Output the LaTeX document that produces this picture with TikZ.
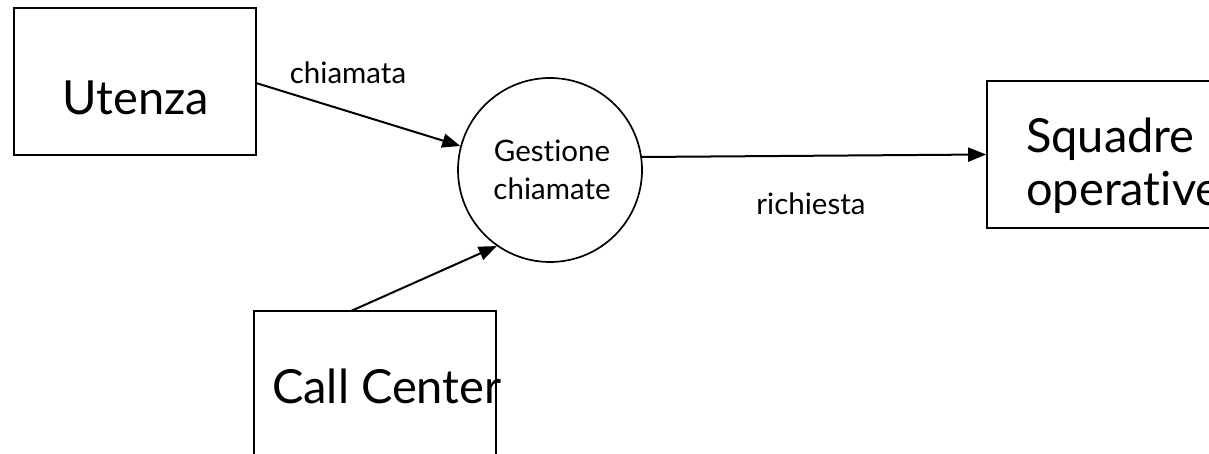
\documentclass[tikz,border=0pt]{standalone}
\usepackage{fontspec}
\setmainfont{Lato}[Ligatures={NoCommon,NoRare}]
\usetikzlibrary{arrows.meta}
\tikzset{
  ent/.style={draw, line width=1.7pt, minimum width=242pt, minimum height=147pt, inner sep=0pt},
  big/.style={font=\fontsize{47}{53}\selectfont, inner sep=0pt},
  small/.style={font=\fontsize{29.5}{38}\selectfont, inner sep=0pt},
  flow/.style={line width=2pt, -{Triangle[length=18pt,width=14pt]}}
}
\begin{document}
\begin{tikzpicture}[x=1pt,y=-1pt]
\useasboundingbox (0,0) rectangle (1209,454);
\begin{scope}
\clip (0,0) rectangle (1209,454);
\node[ent] (ut) at (135,81.5) {};
\node[ent] (sq) at (1108,154.5) {};
\node[ent] (cc) at (375,384.5) {};
\node[draw, circle, line width=1.7pt, minimum size=184pt, inner sep=0pt] (gc) at (550,170) {};
\node[big] (utt) at (136,98) {Utenza};
\node[big, anchor=west, align=left] (sqt) at (1026,166) {Squadre\\operative};
\node[big, anchor=west] (cct) at (272,386) {Call Center};
\node[small, align=center] (gct) at (552,170) {Gestione\\chiamate};
\node[small] (l1) at (348,73) {chiamata};
\node[small] (l2) at (811,204) {richiesta};
\coordinate (a1) at (256,83);
\coordinate (a2) at (642,157);
\coordinate (a3) at (351,311);
\draw[flow] (a1) -- (gc.165);
\draw[flow] (a2) -- (sq.west);
\draw[flow] (a3) -- (gc.-125);
\end{scope}
\end{tikzpicture}
\end{document}
